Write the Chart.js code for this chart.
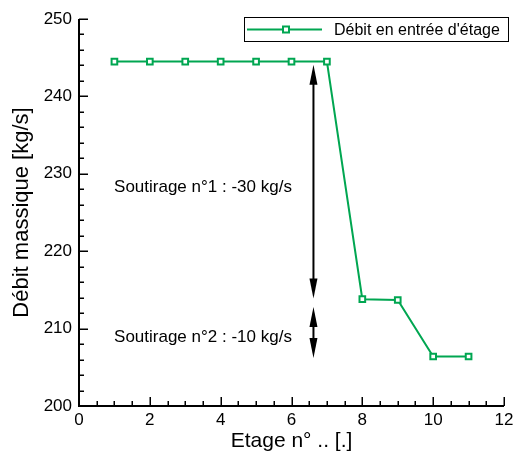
<!DOCTYPE html>
<html>
<head>
<meta charset="utf-8">
<script src="https://cdn.jsdelivr.net/npm/chart.js@4.4.1/dist/chart.umd.min.js"></script>
<style>
  html, body { margin: 0; padding: 0; background: #fff; }
  #wrap { width: 513px; height: 452px; }
</style>
</head>
<body>
<div id="wrap"><canvas id="myChart"></canvas></div>
<script>
const etages = [1, 2, 3, 4, 5, 6, 7, 8, 9, 10, 11];
const debit = [244.5, 244.5, 244.5, 244.5, 244.5, 244.5, 244.5, 213.8, 213.7, 206.4, 206.4];
const serieLabel = "Débit en entrée d'étage";

// double arrows (x, from, to) in data units, and their notes
const arrowX = [6.62, 6.62];
const arrowFrom = [244.1, 212.8];
const arrowTo = [213.9, 206.2];
const noteText = ["Soutirage n°1 : -30 kg/s", "Soutirage n°2 : -10 kg/s"];
const noteX = [3.5, 3.5];
const noteY = [228.2, 208.9];

const xTicks = [0, 2, 4, 6, 8, 10, 12];
const yTicks = [200, 210, 220, 230, 240, 250];

const green = "#00a651";
const fontFamily = "'Liberation Sans', Arial, sans-serif";

const axesPlugin = {
  id: "axesInward",
  afterDraw(chart) {
    const { ctx, chartArea, scales } = chart;
    const x = scales.x, y = scales.y;
    ctx.save();
    ctx.strokeStyle = "#000";
    ctx.lineWidth = 2;
    ctx.beginPath();
    ctx.moveTo(chartArea.left, chartArea.top);
    ctx.lineTo(chartArea.left, chartArea.bottom);
    ctx.lineTo(chartArea.right, chartArea.bottom);
    ctx.stroke();

    ctx.lineWidth = 1.5;
    ctx.beginPath();
    for (let v = x.min; v <= x.max + 1e-9; v += 0.5) {
      const px = Math.round(x.getPixelForValue(v)) + 0.25;
      const len = v % 2 === 0 ? 9 : 5;
      ctx.moveTo(px, chartArea.bottom);
      ctx.lineTo(px, chartArea.bottom - len);
    }
    for (let v = y.min; v <= y.max + 1e-9; v += 2) {
      const py = Math.round(y.getPixelForValue(v)) + 0.25;
      const len = v % 10 === 0 ? 9 : 5;
      ctx.moveTo(chartArea.left, py);
      ctx.lineTo(chartArea.left + len, py);
    }
    ctx.stroke();
    ctx.restore();
  },
};

const notesPlugin = {
  id: "notes",
  afterDatasetsDraw(chart) {
    const { ctx, scales } = chart;
    const x = scales.x, y = scales.y;
    ctx.save();
    ctx.fillStyle = "#000";
    ctx.strokeStyle = "#000";
    ctx.lineWidth = 2;

    function head(px, tip, dir) {
      ctx.beginPath();
      ctx.moveTo(px, tip);
      ctx.lineTo(px - 4, tip + dir * 20);
      ctx.lineTo(px + 4, tip + dir * 20);
      ctx.closePath();
      ctx.fill();
    }

    for (let i = 0; i < arrowX.length; i++) {
      const px = x.getPixelForValue(arrowX[i]);
      const top = y.getPixelForValue(arrowFrom[i]);
      const bot = y.getPixelForValue(arrowTo[i]);
      ctx.beginPath();
      ctx.moveTo(px, top + 10);
      ctx.lineTo(px, bot - 10);
      ctx.stroke();
      head(px, top, 1);
      head(px, bot, -1);
    }

    ctx.font = "17px " + fontFamily;
    ctx.textAlign = "center";
    ctx.textBaseline = "middle";
    for (let i = 0; i < noteText.length; i++) {
      ctx.fillText(noteText[i], x.getPixelForValue(noteX[i]), y.getPixelForValue(noteY[i]));
    }
    ctx.restore();
  },
};

const legendPlugin = {
  id: "boxLegend",
  afterDraw(chart) {
    const { ctx, chartArea } = chart;
    const right = chartArea.right + 5;
    const left = right - 265;
    const top = chartArea.top - 2;
    const h = 25;
    const mid = top + h / 2;
    ctx.save();
    ctx.fillStyle = "#fff";
    ctx.fillRect(left, top, right - left, h);
    ctx.strokeStyle = "#000";
    ctx.lineWidth = 1;
    ctx.strokeRect(left + 0.5, top + 0.5, right - left - 1, h - 1);

    ctx.strokeStyle = green;
    ctx.lineWidth = 2;
    ctx.beginPath();
    ctx.moveTo(left + 3, mid);
    ctx.lineTo(left + 78, mid);
    ctx.stroke();
    ctx.fillStyle = "#fff";
    ctx.fillRect(left + 39, mid - 3, 6, 6);
    ctx.strokeRect(left + 39, mid - 3, 6, 6);

    ctx.fillStyle = "#000";
    ctx.font = "16px " + fontFamily;
    ctx.textAlign = "left";
    ctx.textBaseline = "middle";
    ctx.fillText(serieLabel, left + 90, mid + 1);
    ctx.restore();
  },
};

const ctx = document.getElementById("myChart").getContext("2d");

new Chart(ctx, {
  type: "line",
  data: {
    datasets: [
      {
        label: serieLabel,
        data: etages.map((e, i) => ({ x: e, y: debit[i] })),
        borderColor: green,
        borderWidth: 2,
        backgroundColor: "#fff",
        pointStyle: "rect",
        pointRadius: 4,
        pointBorderWidth: 2,
        pointBorderColor: green,
        pointBackgroundColor: "#fff",
        tension: 0,
        fill: false,
      },
    ],
  },
  options: {
    responsive: true,
    maintainAspectRatio: false,
    animation: false,
    layout: { padding: { top: 19, right: 9, left: 0, bottom: 0 } },
    plugins: {
      legend: { display: false },
      tooltip: { enabled: false },
    },
    scales: {
      x: {
        type: "linear",
        min: 0,
        max: 12,
        afterBuildTicks: (scale) => {
          scale.ticks = xTicks.map((v) => ({ value: v }));
        },
        afterFit: (scale) => {
          scale.height = 46;
          scale.paddingLeft = 0;
          scale.paddingRight = 0;
        },
        grid: { display: false, drawTicks: false },
        border: { display: false },
        ticks: {
          color: "#000",
          padding: 4,
          maxRotation: 0,
          font: { family: fontFamily, size: 17 },
        },
        title: {
          display: true,
          text: "Etage n° .. [.]",
          color: "#000",
          padding: { top: 0, bottom: 0 },
          font: { family: fontFamily, size: 21, lineHeight: 1 },
        },
      },
      y: {
        type: "linear",
        min: 200,
        max: 250,
        afterBuildTicks: (scale) => {
          scale.ticks = yTicks.map((v) => ({ value: v }));
        },
        afterFit: (scale) => {
          scale.width = 79;
          scale.paddingTop = 0;
          scale.paddingBottom = 0;
        },
        grid: { display: false, drawTicks: false },
        border: { display: false },
        ticks: {
          color: "#000",
          padding: 7,
          font: { family: fontFamily, size: 17 },
        },
        title: {
          display: true,
          text: "Débit massique [kg/s]",
          color: "#000",
          padding: { top: 11, bottom: 0 },
          font: { family: fontFamily, size: 22, lineHeight: 1 },
        },
      },
    },
  },
  plugins: [axesPlugin, notesPlugin, legendPlugin],
});
</script>
</body>
</html>
